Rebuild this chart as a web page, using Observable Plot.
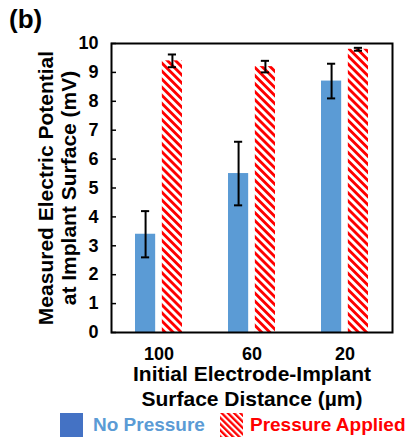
<!DOCTYPE html>
<html><head><meta charset="utf-8">
<script src="https://cdn.jsdelivr.net/npm/d3@7"></script>
<script src="https://cdn.jsdelivr.net/npm/@observablehq/plot@0.6"></script>
<style>
body{margin:0;background:#fff;font-family:"Liberation Sans",Arial,sans-serif;}
#wrap{position:relative;width:410px;height:441px;overflow:hidden;background:#fff;}
#wrap svg.main{position:absolute;left:0;top:0;}
#panel{position:absolute;left:9px;top:1px;font-size:26px;font-weight:bold;line-height:36px;}
#legend{position:absolute;left:60px;top:413px;height:24px;display:flex;align-items:center;font-size:19px;font-weight:bold;white-space:nowrap;}
#legend .sw{width:23px;height:24px;display:inline-block;}
#legend .lab{margin-left:10px;}
</style></head><body><div id="wrap"></div>
<script>
const distances = ["100", "60", "20"];
const seriesNames = ["No Pressure", "Pressure Applied"];
const noPressure = [3.4, 5.5, 8.7];
const noPressureErr = [0.8, 1.1, 0.6];
const pressureApplied = [9.4, 9.2, 9.8];
const pressureAppliedErr = [0.22, 0.2, 0.05];
const yTicks = [0, 1, 2, 3, 4, 5, 6, 7, 8, 9, 10];
const yLabel = "Measured Electric Potential\nat Implant Surface (mV)";
const xLabel = "Initial Electrode-Implant\nSurface Distance (µm)";
const panelLabel = "(b)";

const W = 410, H = 441, mL = 111, mR = 18, mT = 43, mB = 109;
const plotW = W - mL - mR;
const step = plotW / 3;
const bw = step * 0.5;
const barW = 20;
const capHalf = 4;

const rows = distances.flatMap((d, i) => [
  {dist: d, series: seriesNames[0], value: noPressure[i], err: noPressureErr[i]},
  {dist: d, series: seriesNames[1], value: pressureApplied[i], err: pressureAppliedErr[i]}
]);
const blue = rows.filter(r => r.series === seriesNames[0]);
const red = rows.filter(r => r.series === seriesNames[1]);
const off = bw / 2 - barW / 2;

const errMarks = (data, sign) => {
  const inL = sign < 0 ? barW / 2 - capHalf : bw - barW / 2 - capHalf;
  const inR = bw - inL - 2 * capHalf;
  return [
    Plot.ruleX(data, {x: "dist", y1: d => d.value - d.err, y2: d => d.value + d.err, dx: sign * off, stroke: "black", strokeWidth: 2}),
    Plot.tickY(data, {x: "dist", y: d => d.value + d.err, insetLeft: inL, insetRight: inR, stroke: "black", strokeWidth: 2}),
    Plot.tickY(data, {x: "dist", y: d => d.value - d.err, insetLeft: inL, insetRight: inR, stroke: "black", strokeWidth: 2})
  ];
};

const svg = Plot.plot({
  width: W, height: H,
  marginLeft: mL, marginRight: mR, marginTop: mT, marginBottom: mB,
  style: {fontFamily: "'Liberation Sans', Arial, sans-serif", color: "black", background: "transparent"},
  x: {domain: distances, paddingInner: 0.5, paddingOuter: 0.25},
  y: {domain: [0, 10]},
  marks: [
    Plot.barY(blue, {x: "dist", y: "value", fill: "#5b9bd5", insetRight: bw - barW}),
    Plot.barY(red, {x: "dist", y: "value", fill: "url(#hatch)", insetLeft: bw - barW}),
    ...errMarks(blue, -1),
    ...errMarks(red, 1),
    Plot.ruleY(yTicks, {y: d => d, insetRight: plotW - 5, stroke: "black", strokeWidth: 1.5}),
    Plot.frame({stroke: "black", strokeWidth: 2}),
    Plot.axisY(yTicks, {tickSize: 0, tickPadding: 13, fontSize: 18, fontWeight: "bold", label: null}),
    Plot.axisX({tickSize: 0, tickPadding: 15, fontSize: 18, fontWeight: "bold", label: null}),
    Plot.text([xLabel], {text: d => d, frameAnchor: "bottom", lineAnchor: "top", dy: 31, lineHeight: 1.18, fontSize: 21, fontWeight: "bold"}),
    Plot.text([yLabel], {text: d => d, frameAnchor: "left", textAnchor: "middle", lineAnchor: "top", rotate: -90, dx: -76, lineHeight: 1.14, fontSize: 21, fontWeight: "bold"})
  ]
});
svg.classList.add("main");
const defs = d3.select(svg).insert("defs", ":first-child");
function addHatch(id, size) {
  const p = defs.append("pattern").attr("id", id).attr("patternUnits", "userSpaceOnUse")
    .attr("width", size).attr("height", size).attr("patternTransform", "rotate(-45)");
  p.append("rect").attr("width", size).attr("height", size).attr("fill", "white");
  p.append("rect").attr("width", size / 2).attr("height", size).attr("fill", "#ff0000");
}
addHatch("hatch", 5.7);

const wrap = document.getElementById("wrap");
wrap.appendChild(svg);

const panel = document.createElement("div");
panel.id = "panel";
panel.textContent = panelLabel;
wrap.appendChild(panel);

const legend = document.createElement("div");
legend.id = "legend";
legend.innerHTML = `<span class="sw" style="background:#4472c4"></span><span class="lab" style="color:#5b9bd5">${seriesNames[0]}</span>`
  + `<svg class="sw" width="23" height="24" style="margin-left:15px"><defs><pattern id="hatchL" patternUnits="userSpaceOnUse" width="4.4" height="4.4" patternTransform="rotate(-45)"><rect width="4.4" height="4.4" fill="white"/><rect width="2.3" height="4.4" fill="#ff0000"/></pattern></defs><rect width="23" height="24" fill="url(#hatchL)"/></svg>`
  + `<span class="lab" style="color:#ff0000;margin-left:7px">${seriesNames[1]}</span>`;
wrap.appendChild(legend);
</script></body></html>
